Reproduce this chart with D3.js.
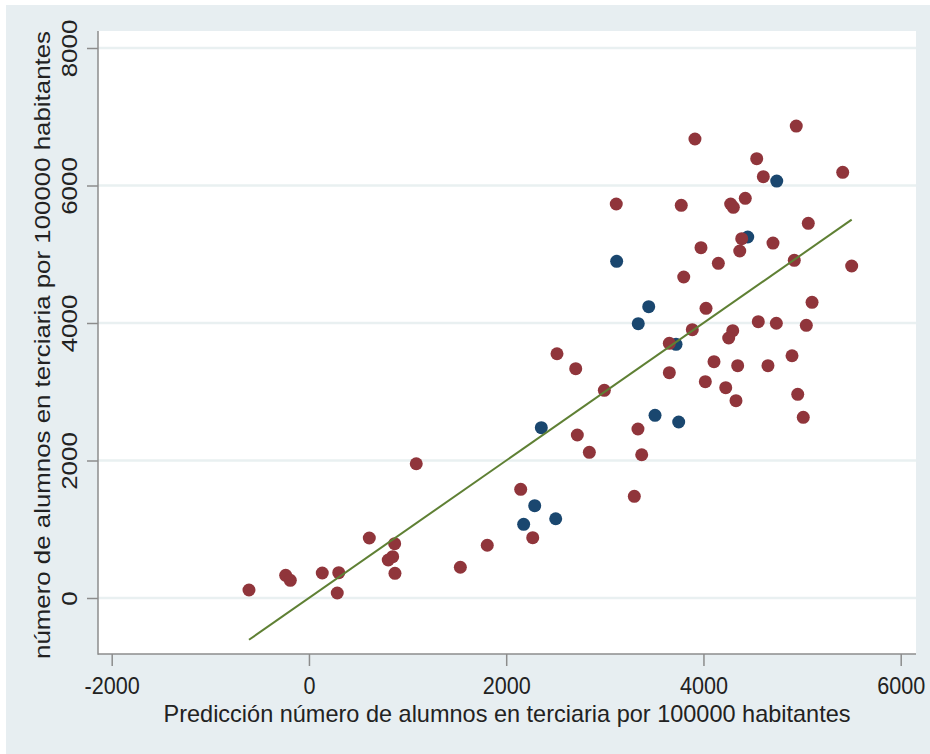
<!DOCTYPE html>
<html>
<head>
<meta charset="utf-8">
<script src="https://cdn.jsdelivr.net/npm/d3@7/dist/d3.min.js"></script>
<style>
  html, body { margin: 0; padding: 0; background: #ffffff; }
  svg { display: block; }
  text { font-family: "Liberation Sans", Arial, sans-serif; fill: #222; }
</style>
</head>
<body>
<div id="chart"></div>
<script>
// ---- Data ----
const redPred   = [3914,4941,4540,4607,5412,3116,3775,4276,4303,4424,5063,4388,4368,4705,3975,4151,4921,5503,3800,5101,4026,3887,4556,4739,5043,4297,4256,3654,2515,4898,2705,2995,3654,4107,4347,4654,4019,4226,4330,4956,5012,2721,2843,3336,3374,3299,2147,2269,1808,1088,1535,612,869,849,804,872,135,302,287,-236,-189,-608];
const redActual = [6676,6865,6390,6128,6192,5731,5712,5731,5683,5814,5450,5226,5047,5163,5095,4868,4912,4829,4669,4301,4214,3903,4019,3996,3966,3888,3782,3705,3553,3524,3335,3021,3277,3437,3379,3379,3146,3059,2870,2963,2628,2371,2119,2458,2084,1479,1581,877,767,1953,447,873,790,601,553,359,364,368,73,330,257,116];
const bluePred   = [4743,4449,3120,3445,3339,3722,3509,3749,2356,2289,2502,2177];
const blueActual = [6065,5251,4897,4237,3990,3690,2657,2560,2477,1343,1153,1072];
const xTicks = [-2000, 0, 2000, 4000, 6000];
const yTicks = [0, 2000, 4000, 6000, 8000];
const xTitle = "Predicción número de alumnos en terciaria por 100000 habitantes";
const yTitle = "número de alumnos en terciaria por 100000 habitantes";

// ---- Layout ----
const W = 930, H = 754;
const plot = { left: 98, right: 916, top: 31, bottom: 654 };

const svg = d3.select("#chart").append("svg").attr("width", W).attr("height", H);

// graph region background
svg.append("rect").attr("x", 6).attr("y", 5).attr("width", W - 6).attr("height", H - 5).attr("fill", "#e7eef1");
// plot region
svg.append("rect").attr("x", plot.left).attr("y", plot.top)
  .attr("width", plot.right - plot.left).attr("height", plot.bottom - plot.top).attr("fill", "#ffffff");

const x = d3.scaleLinear().domain([-2000, 6000]).range([111.7, 900.7]);
const y = d3.scaleLinear().domain([0, 8000]).range([598, 48]);

// gridlines
svg.append("g").selectAll("line").data(yTicks).join("line")
  .attr("x1", plot.left).attr("x2", plot.right)
  .attr("y1", d => y(d)).attr("y2", d => y(d))
  .attr("stroke", "#e9f0f1").attr("stroke-width", 2.5);

// points: blue series first, then red
const blue = bluePred.map((p, i) => ({ p, a: blueActual[i] }));
const red = redPred.map((p, i) => ({ p, a: redActual[i] }));
svg.append("g").selectAll("circle").data(blue).join("circle")
  .attr("cx", d => x(d.p)).attr("cy", d => y(d.a)).attr("r", 6.5).attr("fill", "#1a476f");
svg.append("g").selectAll("circle").data(red).join("circle")
  .attr("cx", d => x(d.p)).attr("cy", d => y(d.a)).attr("r", 6.5).attr("fill", "#90353b");

// 45-degree line over the range of predictions
const allPred = redPred.concat(bluePred);
const ext = d3.extent(allPred);
svg.append("line")
  .attr("x1", x(ext[0])).attr("y1", y(ext[0]))
  .attr("x2", x(ext[1])).attr("y2", y(ext[1]))
  .attr("stroke", "#5f8034").attr("stroke-width", 2);

// axes
const axisColor = "#8c8c8c";
const fmt = d => String(d);
const gx = svg.append("g").attr("transform", `translate(0,${plot.bottom})`)
  .call(d3.axisBottom(x).tickValues(xTicks).tickSize(12).tickFormat(fmt));
gx.select(".domain").remove();
gx.selectAll(".tick line").attr("stroke", axisColor).attr("stroke-width", 1.5);
gx.selectAll(".tick text").attr("y", 40).attr("dy", 0).attr("font-size", 24)
  .attr("font-family", "Liberation Sans, Arial, sans-serif").attr("fill", "#222");

const gy = svg.append("g").attr("transform", `translate(${plot.left},0)`)
  .call(d3.axisLeft(y).tickValues(yTicks).tickSize(11).tickFormat(fmt));
gy.select(".domain").remove();
gy.selectAll(".tick line").attr("stroke", axisColor).attr("stroke-width", 1.5);
gy.selectAll(".tick text").attr("x", 0).attr("y", -21).attr("dy", 0)
  .attr("transform", "rotate(-90)").attr("text-anchor", "middle")
  .attr("font-size", 22).attr("font-family", "Liberation Sans, Arial, sans-serif").attr("fill", "#222");

svg.append("line").attr("x1", plot.left).attr("x2", plot.left).attr("y1", plot.top).attr("y2", plot.bottom + 0.75)
  .attr("stroke", axisColor).attr("stroke-width", 1.5);
svg.append("line").attr("x1", plot.left).attr("x2", plot.right).attr("y1", plot.bottom).attr("y2", plot.bottom)
  .attr("stroke", axisColor).attr("stroke-width", 1.5);

// titles
const xt = svg.append("text").attr("x", (plot.left + plot.right) / 2).attr("y", 721.5)
  .attr("text-anchor", "middle").attr("font-size", 24).text(xTitle);
const yt = svg.append("text").attr("transform", `translate(50,345) rotate(-90)`)
  .attr("text-anchor", "middle").attr("font-size", 22).text(yTitle);

// squeeze / stretch text widths to match the reference proportions
gx.selectAll(".tick text").each(function () {
  const L = this.getComputedTextLength();
  d3.select(this).attr("textLength", L * 0.9).attr("lengthAdjust", "spacingAndGlyphs");
});
gy.selectAll(".tick text").each(function () {
  const L = this.getComputedTextLength();
  d3.select(this).attr("textLength", L * 1.18).attr("lengthAdjust", "spacingAndGlyphs");
});
xt.attr("textLength", 687).attr("lengthAdjust", "spacingAndGlyphs");
yt.attr("textLength", 628).attr("lengthAdjust", "spacingAndGlyphs");
</script>
</body>
</html>
